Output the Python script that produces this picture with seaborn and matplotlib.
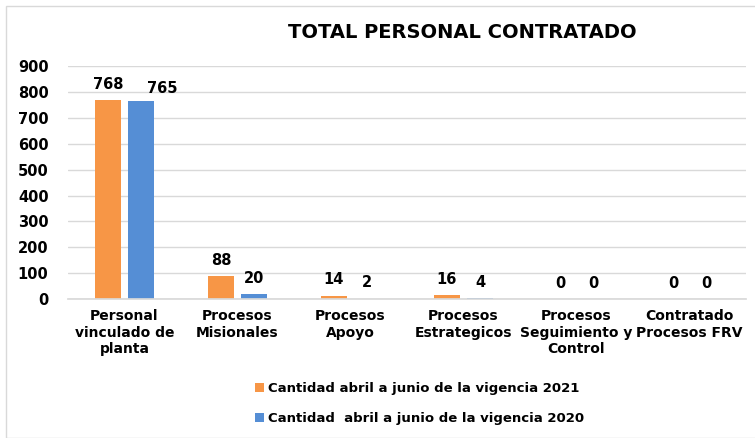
import matplotlib
matplotlib.use("Agg")
import matplotlib.pyplot as plt
import seaborn as sns
import pandas as pd
from matplotlib.patches import Rectangle

categories = ["Personal\nvinculado de\nplanta", "Procesos\nMisionales", "Procesos\nApoyo",
              "Procesos\nEstrategicos", "Procesos\nSeguimiento y\nControl", "Contratado\nProcesos FRV"]
series_2021 = [768, 88, 14, 16, 0, 0]
series_2020 = [765, 20, 2, 4, 0, 0]
label_2021 = "Cantidad abril a junio de la vigencia 2021"
label_2020 = "Cantidad  abril a junio de la vigencia 2020"
title = "TOTAL PERSONAL CONTRATADO"
yticks = [0, 100, 200, 300, 400, 500, 600, 700, 800, 900]

df = pd.DataFrame({
    "cat": categories * 2,
    "val": series_2021 + series_2020,
    "serie": [label_2021] * len(categories) + [label_2020] * len(categories),
})

sns.set_theme(style="white")
plt.rcParams['font.family'] = ['DejaVu Sans']
plt.rcParams['text.color'] = 'black'
plt.rcParams['xtick.color'] = 'black'
plt.rcParams['ytick.color'] = 'black'
plt.rcParams['axes.labelcolor'] = 'black'

fig = plt.figure(figsize=(7.55, 4.38), dpi=100)
ax = fig.add_axes([0.090, 0.317, 0.898, 0.532])

sns.barplot(data=df, x="cat", y="val", hue="serie", ax=ax,
            palette=["#F79646", "#558ED5"], width=0.584, gap=0.21,
            saturation=1, linewidth=0, legend=True)

for i, c in enumerate(ax.containers):
    anns = ax.bar_label(c, fmt="%d", padding=6, fontsize=10.5, fontweight="bold", color="black")
    if i == 1:
        # avoid overlap of the two first labels, as in the reference
        anns[0].xyann = (15, 4)

ax.set_ylim(0, 900)
ax.set_yticks(yticks)
ax.set_yticklabels([str(t) for t in yticks], fontsize=10.5, fontweight="bold")
ax.set_xlabel("")
ax.set_ylabel("")
ax.tick_params(axis="x", labelsize=10, length=0, pad=7)
ax.tick_params(axis="y", length=0, pad=14)
for lbl in ax.get_xticklabels():
    lbl.set_fontweight("bold")
    lbl.set_linespacing(1.25)
ax.yaxis.grid(True, color="#D9D9D9", linewidth=1)
ax.set_axisbelow(True)
for s in ["top", "right", "left"]:
    ax.spines[s].set_visible(False)
ax.spines["bottom"].set_color("#D9D9D9")
ax.set_xlim(-0.5, len(categories) - 0.5)

handles, labels = ax.get_legend_handles_labels()
ax.get_legend().remove()
fig.legend(handles, labels, loc="upper left", bbox_to_anchor=(0.322, 0.155),
           frameon=False, prop={"weight": "bold", "size": 9.5},
           handlelength=0.65, handleheight=0.65, handletextpad=0.35, labelspacing=1.3)

fig.text(462 / 755, 1 - 33 / 438, title, ha="center", va="center",
         fontsize=14, fontweight="bold")

fig.patches.append(Rectangle((6 / 755, 0), 1, 1 - 6 / 438, transform=fig.transFigure,
                             fill=False, edgecolor="#D9D9D9", linewidth=1))

fig.savefig("out.png", dpi=100)
